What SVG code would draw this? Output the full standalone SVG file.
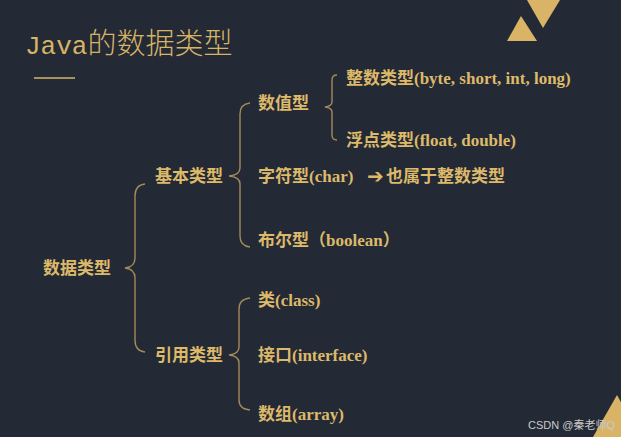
<svg xmlns="http://www.w3.org/2000/svg" width="621" height="437" viewBox="0 0 621 437">
  <style>
    .t { fill: #ddb96a; font-size: 17px; font-weight: bold; font-family: "Liberation Serif", "Noto Sans CJK SC", serif; }
    .cjk { font-family: "Noto Sans CJK SC", sans-serif; }
    .brace { fill: none; stroke: #a48a58; stroke-width: 1.4; }
    .deco { fill: #d9b467; }
  </style>
  <rect width="621" height="437" fill="#232935"/>
  <g id="decor">
    <polygon class="deco" points="507,41 537,41 521,16"/>
    <polygon class="deco" points="527,0 560,0 543,28"/>
    <polygon class="deco" points="617,395 640,437 593,437"/>
    <line x1="34" y1="78" x2="75" y2="78" stroke="#d9b467" stroke-width="1.5"/>
  </g>
  <g id="title">
    <text x="25" y="54" fill="#d7b465" font-size="26" font-family="Liberation Mono, monospace">Java<tspan font-family="Noto Sans CJK SC, sans-serif" font-size="29" font-weight="300">的数据类型</tspan></text>
  </g>
  <g id="connectors">
    <path class="brace" d="M145,184 Q135,185 135,196 L135,258 Q135,267 125,268 Q135,269 135,278 L135,340 Q135,351 145,352"/>
    <path class="brace" d="M250,103 Q240,104 240,114 L240,168 Q240,175 229,176 Q240,177 240,184 L240,236 Q240,246 250,247"/>
    <path class="brace" d="M250,298 Q239,299 239,309 L239,347 Q239,354 229,355 Q239,356 239,363 L239,400 Q239,409 250,410"/>
    <path class="brace" d="M337,75 Q332,75 332,80 L332,102 Q332,106 325,107 Q332,108 332,112 L332,135 Q332,140 337,140"/>
  </g>
  <g id="node-root"><text class="t" x="43" y="274"><tspan class="cjk">数据类型</tspan></text></g>
  <g id="node-basic"><text class="t" x="155" y="182"><tspan class="cjk">基本类型</tspan></text></g>
  <g id="node-ref"><text class="t" x="155" y="361"><tspan class="cjk">引用类型</tspan></text></g>
  <g id="node-numeric"><text class="t" x="258" y="109"><tspan class="cjk">数值型</tspan></text></g>
  <g id="node-int"><text class="t" x="346" y="84"><tspan class="cjk">整数类型</tspan>(byte, short, int, long)</text></g>
  <g id="node-float"><text class="t" x="346" y="146"><tspan class="cjk">浮点类型</tspan>(float, double)</text></g>
  <g id="node-char">
    <text class="t" x="258" y="182"><tspan class="cjk">字符型</tspan>(char)</text>
    <text class="t" x="367" y="183"><tspan font-family="DejaVu Sans, sans-serif" font-size="20">➔</tspan></text>
    <text class="t" x="386" y="182"><tspan class="cjk">也属于整数类型</tspan></text>
  </g>
  <g id="node-bool"><text class="t" x="258" y="246"><tspan class="cjk">布尔型（</tspan>boolean<tspan class="cjk">）</tspan></text></g>
  <g id="node-class"><text class="t" x="258" y="306"><tspan class="cjk">类</tspan>(class)</text></g>
  <g id="node-interface"><text class="t" x="258" y="361"><tspan class="cjk">接口</tspan>(interface)</text></g>
  <g id="node-array"><text class="t" x="258" y="420"><tspan class="cjk">数组</tspan>(array)</text></g>
  <g id="watermark"><text x="528" y="429" fill="#c9c9c9" font-size="11" font-family="Liberation Sans, Noto Sans CJK SC, sans-serif">CSDN @秦老师Q</text></g>
</svg>
